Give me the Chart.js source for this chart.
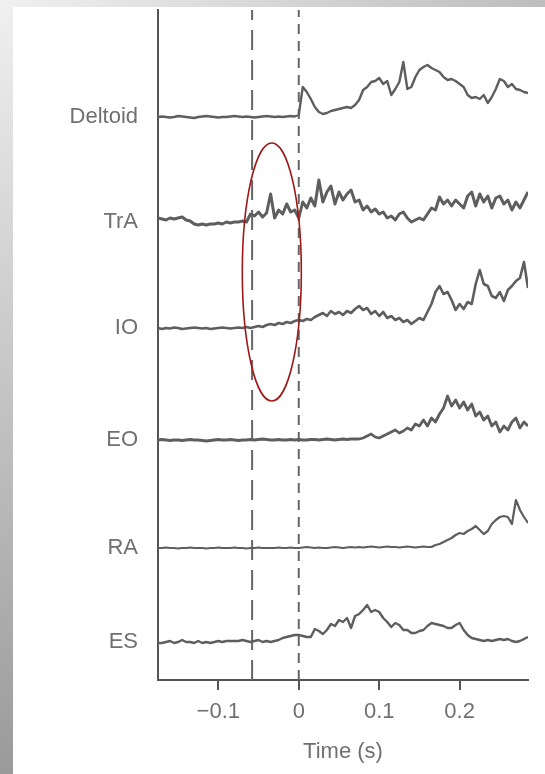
<!DOCTYPE html>
<html>
<head>
<meta charset="utf-8">
<script src="https://cdn.jsdelivr.net/npm/chart.js@4.4.1/dist/chart.umd.min.js"></script>
<style>
  html, body { margin:0; padding:0; background:#fff; }
  #wrap { position:relative; width:545px; height:774px; overflow:hidden; }
  #leftStrip { position:absolute; left:0; top:0; width:13px; height:774px; background:linear-gradient(to bottom,#f0f0f0,#9a9a9a); }
  #topStrip { position:absolute; left:0; top:0; width:545px; height:7px; background:linear-gradient(to right,#f0f0f0,#bdbdbd); }
  #paper { position:absolute; left:13px; top:7px; width:532px; height:767px; background:#fff; }
  canvas { position:absolute; left:0; top:0; }
</style>
</head>
<body>
<div id="wrap">
  <div id="leftStrip"></div>
  <div id="topStrip"></div>
  <div id="paper"></div>
  <canvas id="c" width="545" height="774"></canvas>
</div>
<script>
// Sample grid (seconds)
const timeStart = -0.175;
const timeStep = 0.005;

// Channel names (top to bottom) and their baseline offsets
const muscles = ["Deltoid", "TrA", "IO", "EO", "RA", "ES"];
const baselines = [563, 458, 352, 240, 132, 38];

// X tick labels
const xTickValues = [-0.1, 0, 0.1, 0.2];
const xTickLabels = ["\u22120.1", "0", "0.1", "0.2"];

// Marker lines (s)
const longDashTime = -0.058;
const shortDashTime = 0.0;

// Trace amplitudes (deviation above each baseline)
const deltoid = [0,0.5,0,-0.5,0,1,0.5,0,-0.5,-1,0,0.5,1,0.5,0,-0.5,0,0,0.5,1,0.5,0,0.5,0,-0.5,0,0.5,1,0.5,0,0.5,0,0.5,1,0.5,
  2,30,25,18,10,5,3,4,6,7,8,9,10,9,12,17,27,30,35,36,39,33,36,22,28,35,55,28,30,40,47,50,52,49,47,45,40,37,38,36,33,30,22,19,20,18,22,14,20,28,38,36,30,33,28,27,25,24];
const tra = [4,3,2,4,3,4,5,2,1,-2,-3,-2,-3,-2,-2,-1,-2,0,-1,0,0,1,0,
  8,6,10,5,9,28,4,12,8,18,10,12,
  4,20,14,24,16,42,20,30,36,18,30,22,28,32,20,
  22,12,16,10,13,8,10,4,6,2,8,10,4,0,2,4,2,
  8,14,12,25,18,22,16,22,18,14,26,30,16,28,20,26,14,24,26,18,22,12,20,14,22,30];
const io = [0,-1,0,-0.5,0.5,0,-1,-0.5,0,0.5,0,-0.5,0,-1,-0.5,0,0.5,0,-0.5,0,0.5,
  0,1,0,1,2,1,3,4,3,5,4,6,5,7,
  8,7,9,8,11,13,15,12,17,14,16,13,17,15,19,
  22,18,20,14,17,12,16,10,12,8,10,6,8,4,7,10,8,
  16,24,36,42,34,36,28,18,24,19,26,24,44,58,44,42,32,30,36,27,38,42,47,50,66,40];
const eo = [0,0.5,0,-0.5,0,0,-0.5,0,0.5,0,0,-0.5,-1,-0.5,0,0.5,0,0,0.5,0,-0.5,0,0,0.5,0,0.5,1,0.5,0,0,0.5,0,0,0.5,0,0.5,0,0,0.5,0.5,0,0.5,1,0.5,0,0.5,1,0.5,1,1,
  1,2,4,6,3,2,4,6,8,10,7,9,12,10,16,14,20,14,22,18,26,32,44,34,40,32,38,30,36,24,28,20,24,14,18,8,14,10,18,22,12,18,14];
const ra = [0,0,0.5,0,0,-0.5,0,0,0.5,0,0,0,-0.5,0,0,0.5,0,0,0,0.5,0,0,-0.5,0,0,0.5,0,0,0,0,0.5,0,0,0.5,0,0,0.5,1,0.5,0,0.5,0,0,0.5,1,0.5,0,0.5,1,0.5,1,0.5,1,1.5,1,0.5,1,1.5,1,1,0.5,1,1.5,1,0.5,1,1.5,1,
  1,3,4,6,8,10,13,15,14,17,19,22,18,14,17,24,28,31,32,31,24,48,38,31,25];
const es = [-1,-1,0,1,-1,0,2,0,0,-1,1,-1,0,-1,0,1,0,1,1,1,1,2,1,0,1,2,0,1,0,1,2,4,5,6,7,
  7,6,5,5,13,11,8,12,18,16,22,20,24,14,26,28,32,37,30,32,30,24,20,15,19,17,12,12,9,9,11,12,16,19,18,17,16,14,14,17,19,12,7,4,3,2,1,2,1,2,3,2,3,1,0,1,3,5];

// Ellipse annotation (data units)
const ellipseCenterTime = -0.0335;
const ellipseCenterValue = 408;
const ellipseHalfWidthTime = 0.0367;
const ellipseHalfHeightValue = 129;

const traces = [deltoid, tra, io, eo, ra, es];
const traceWidths = [2.4, 3, 2.6, 2.8, 2.2, 2.4];
const traceColor = "#5e5e5e";
const yMax = 670;

function buildSeries(vals, base) {
  return vals.map((v, i) => ({ x: timeStart + timeStep * i, y: base + v }));
}

const datasets = traces.map((vals, k) => ({
  label: muscles[k],
  data: buildSeries(vals, baselines[k]),
  borderColor: traceColor,
  borderWidth: traceWidths[k],
  borderJoinStyle: "round",
  pointRadius: 0,
  tension: 0,
  fill: false
}));

datasets.push({
  label: "longdash",
  data: [{x: longDashTime, y: 0}, {x: longDashTime, y: yMax}],
  borderColor: "#666",
  borderWidth: 2,
  borderDash: [20, 10],
  pointRadius: 0
});
datasets.push({
  label: "shortdash",
  data: [{x: shortDashTime, y: 0}, {x: shortDashTime, y: yMax}],
  borderColor: "#666",
  borderWidth: 2,
  borderDash: [10, 7],
  pointRadius: 0
});

const ellipsePlugin = {
  id: "ellipse",
  afterDatasetsDraw(chart) {
    const xs = chart.scales.x, ys = chart.scales.y, ctx = chart.ctx;
    const cx = xs.getPixelForValue(ellipseCenterTime);
    const cy = ys.getPixelForValue(ellipseCenterValue);
    const rx = Math.abs(xs.getPixelForValue(ellipseCenterTime + ellipseHalfWidthTime) - cx);
    const ry = Math.abs(ys.getPixelForValue(ellipseCenterValue + ellipseHalfHeightValue) - cy);
    ctx.save();
    ctx.beginPath();
    ctx.ellipse(cx, cy, rx, ry, 0, 0, Math.PI * 2);
    ctx.strokeStyle = "#9e1a1a";
    ctx.lineWidth = 1.6;
    ctx.stroke();
    ctx.restore();
  }
};

const fontFamily = "'Liberation Sans', Arial, Helvetica, sans-serif";
const textColor = "#707070";

new Chart(document.getElementById("c"), {
  type: "line",
  data: { datasets },
  plugins: [ellipsePlugin],
  options: {
    responsive: false,
    animation: false,
    devicePixelRatio: 1,
    layout: { padding: { left: 0, top: 10, right: 17, bottom: 0 } },
    plugins: { legend: { display: false }, tooltip: { enabled: false } },
    scales: {
      x: {
        type: "linear",
        min: -0.175,
        max: 0.285,
        afterFit(s) { s.height = 94; s.paddingLeft = 0; s.paddingRight = 0; },
        afterBuildTicks(s) { s.ticks = xTickValues.map(v => ({ value: v })); },
        ticks: {
          callback(v) { const i = xTickValues.findIndex(t => Math.abs(t - v) < 1e-9); return i >= 0 ? xTickLabels[i] : ""; },
          color: textColor,
          font: { family: fontFamily, size: 22 },
          padding: 9,
          maxRotation: 0,
          autoSkip: false
        },
        grid: { drawOnChartArea: false, drawTicks: true, tickLength: 10, color: "#555", lineWidth: 2 },
        border: { display: true, color: "#555", width: 2 },
        title: {
          display: true,
          text: "Time (s)",
          color: textColor,
          font: { family: fontFamily, size: 22 },
          padding: { top: 0, bottom: 9 }
        }
      },
      y: {
        type: "linear",
        min: 0,
        max: yMax,
        afterFit(s) { s.width = 158; s.paddingTop = 0; s.paddingBottom = 0; },
        afterBuildTicks(s) { s.ticks = baselines.slice().sort((a, b) => a - b).map(v => ({ value: v })); },
        ticks: {
          callback(v) { const i = baselines.indexOf(v); return i >= 0 ? muscles[i] : ""; },
          color: textColor,
          font: { family: fontFamily, size: 22 },
          padding: 20,
          autoSkip: false
        },
        grid: { drawOnChartArea: false, drawTicks: false },
        border: { display: true, color: "#555", width: 2 }
      }
    }
  }
});
</script>
</body>
</html>
